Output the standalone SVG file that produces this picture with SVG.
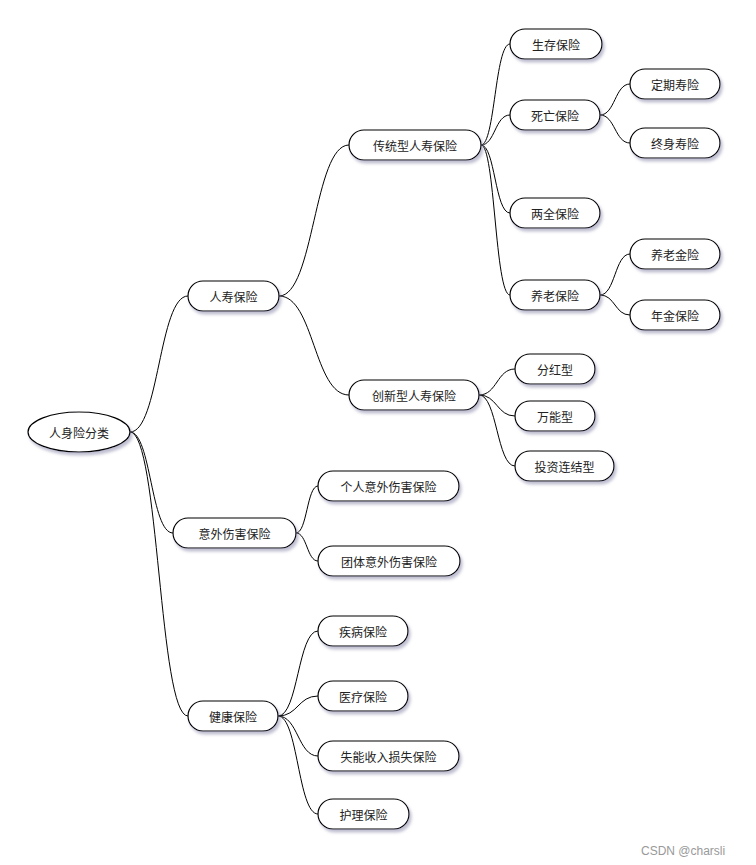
<svg xmlns="http://www.w3.org/2000/svg" width="756" height="865" viewBox="0 0 756 865">
<defs>
<filter id="sh" x="-20%" y="-30%" width="140%" height="180%">
<feDropShadow dx="2" dy="3" stdDeviation="1.5" flood-color="#8888aa" flood-opacity="0.55"/>
</filter>
<style>
.n{fill:#fff;stroke:#000;stroke-width:1.2;filter:url(#sh)}
.t{font-family:"Noto Sans CJK SC","Noto Sans",sans-serif;font-size:12px;fill:#222;text-anchor:middle;dominant-baseline:central}
.c{fill:none;stroke:#000;stroke-width:1}
.w{font-family:"Liberation Sans",Arial,sans-serif;font-size:12px;fill:#999}
</style>
</defs>
<rect width="756" height="865" fill="#fff"/>
<g id="connectors">
<path class="c" d="M130 432 C159 432 159 296 188 296"/>
<path class="c" d="M130 432 C151 432 151 533 173 533"/>
<path class="c" d="M130 432 C159 432 159 716 188 716"/>
<path class="c" d="M279 296 C314 296 314 145 349 145"/>
<path class="c" d="M279 296 C314 296 314 395 349 395"/>
<path class="c" d="M481 145 C495 145 495 44 510 44"/>
<path class="c" d="M481 145 C495 145 495 115 510 115"/>
<path class="c" d="M481 145 C495 145 495 213 510 213"/>
<path class="c" d="M481 145 C495 145 495 295 510 295"/>
<path class="c" d="M600 115 C615 115 615 84 630 84"/>
<path class="c" d="M600 115 C615 115 615 143 630 143"/>
<path class="c" d="M600 295 C615 295 615 254 630 254"/>
<path class="c" d="M600 295 C615 295 615 315 630 315"/>
<path class="c" d="M479 395 C497 395 497 369 515 369"/>
<path class="c" d="M479 395 C497 395 497 416 515 416"/>
<path class="c" d="M479 395 C497 395 497 466 515 466"/>
<path class="c" d="M296 533 C307 533 307 486 318 486"/>
<path class="c" d="M296 533 C307 533 307 561 318 561"/>
<path class="c" d="M278 716 C298 716 298 631 318 631"/>
<path class="c" d="M278 716 C298 716 298 696 318 696"/>
<path class="c" d="M278 716 C298 716 298 756 318 756"/>
<path class="c" d="M278 716 C298 716 298 814 318 814"/>
</g>
<g id="root"><ellipse class="n" cx="79" cy="432" rx="51" ry="20"/><text class="t" x="79" y="432">人身险分类</text></g>
<g id="n1"><rect class="n" x="188" y="281" width="91" height="30" rx="15"/><text class="t" x="233.5" y="296">人寿保险</text></g>
<g id="n2"><rect class="n" x="349" y="130" width="132" height="30" rx="15"/><text class="t" x="415" y="145">传统型人寿保险</text></g>
<g id="n3"><rect class="n" x="510" y="29" width="92" height="30" rx="15"/><text class="t" x="556" y="44">生存保险</text></g>
<g id="n4"><rect class="n" x="510" y="100" width="90" height="30" rx="15"/><text class="t" x="555" y="115">死亡保险</text></g>
<g id="n5"><rect class="n" x="630" y="69" width="90" height="30" rx="15"/><text class="t" x="675" y="84">定期寿险</text></g>
<g id="n6"><rect class="n" x="630" y="128" width="90" height="30" rx="15"/><text class="t" x="675" y="143">终身寿险</text></g>
<g id="n7"><rect class="n" x="510" y="198" width="90" height="30" rx="15"/><text class="t" x="555" y="213">两全保险</text></g>
<g id="n8"><rect class="n" x="510" y="280" width="90" height="30" rx="15"/><text class="t" x="555" y="295">养老保险</text></g>
<g id="n9"><rect class="n" x="630" y="239" width="90" height="30" rx="15"/><text class="t" x="675" y="254">养老金险</text></g>
<g id="n10"><rect class="n" x="630" y="300" width="90" height="30" rx="15"/><text class="t" x="675" y="315">年金保险</text></g>
<g id="n11"><rect class="n" x="349" y="380" width="130" height="30" rx="15"/><text class="t" x="414" y="395">创新型人寿保险</text></g>
<g id="n12"><rect class="n" x="515" y="354" width="80" height="30" rx="15"/><text class="t" x="555" y="369">分红型</text></g>
<g id="n13"><rect class="n" x="515" y="401" width="80" height="30" rx="15"/><text class="t" x="555" y="416">万能型</text></g>
<g id="n14"><rect class="n" x="515" y="451" width="99" height="30" rx="15"/><text class="t" x="564.5" y="466">投资连结型</text></g>
<g id="n15"><rect class="n" x="173" y="518" width="123" height="30" rx="15"/><text class="t" x="234.5" y="533">意外伤害保险</text></g>
<g id="n16"><rect class="n" x="318" y="471" width="141" height="30" rx="15"/><text class="t" x="388.5" y="486">个人意外伤害保险</text></g>
<g id="n17"><rect class="n" x="318" y="546" width="142" height="30" rx="15"/><text class="t" x="389" y="561">团体意外伤害保险</text></g>
<g id="n18"><rect class="n" x="188" y="701" width="90" height="30" rx="15"/><text class="t" x="233" y="716">健康保险</text></g>
<g id="n19"><rect class="n" x="318" y="616" width="90" height="30" rx="15"/><text class="t" x="363" y="631">疾病保险</text></g>
<g id="n20"><rect class="n" x="318" y="681" width="90" height="30" rx="15"/><text class="t" x="363" y="696">医疗保险</text></g>
<g id="n21"><rect class="n" x="318" y="741" width="141" height="30" rx="15"/><text class="t" x="388.5" y="756">失能收入损失保险</text></g>
<g id="n22"><rect class="n" x="318" y="799" width="91" height="30" rx="15"/><text class="t" x="363.5" y="814">护理保险</text></g>
<text class="w" x="641" y="855">CSDN @charsli</text>
</svg>
